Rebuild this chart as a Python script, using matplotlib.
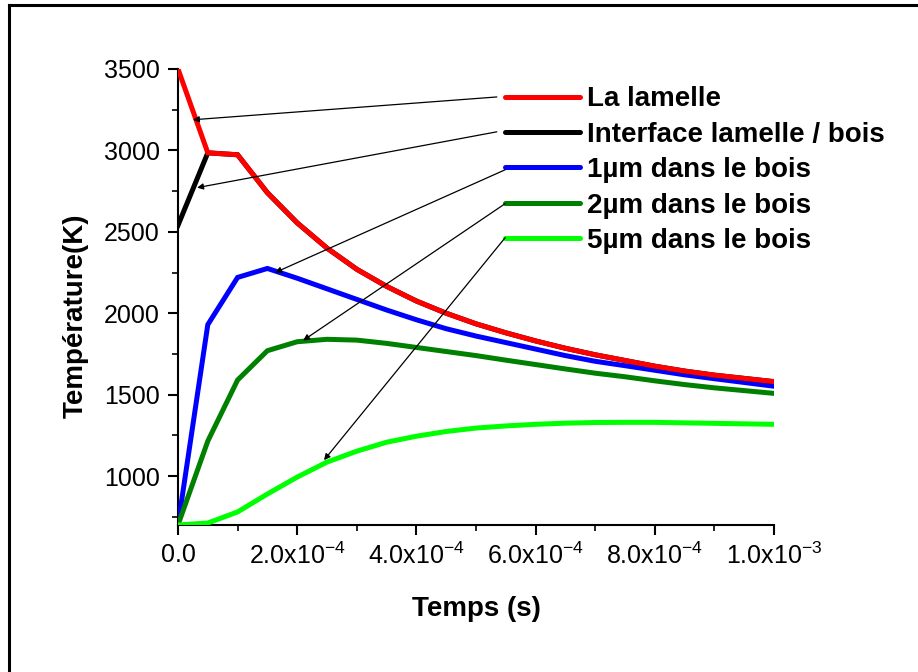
import numpy as np
import matplotlib
matplotlib.use("Agg")
import matplotlib.pyplot as plt
from matplotlib.lines import Line2D
from matplotlib.ticker import MultipleLocator, FixedLocator, FixedFormatter

plt.rcParams['font.family'] = ['Liberation Sans', 'DejaVu Sans']
plt.rcParams['mathtext.default'] = 'regular'

# temps (s), pas de 5e-5
temps = np.arange(21) * 5e-5

lamelle = [3500, 2985, 2973, 2740, 2555, 2400, 2270, 2165, 2075, 2000, 1935,
           1880, 1830, 1785, 1745, 1710, 1675, 1645, 1620, 1600, 1580]
interface = [2540, 2985, 2973, 2740, 2555, 2400, 2270, 2165, 2075, 2000, 1935,
             1880, 1830, 1785, 1745, 1710, 1675, 1645, 1620, 1600, 1580]
bois_1um = [700, 1930, 2220, 2275, 2215, 2150, 2085, 2020, 1960, 1905, 1860,
            1820, 1780, 1740, 1705, 1678, 1650, 1622, 1598, 1575, 1552]
bois_2um = [700, 1215, 1590, 1770, 1825, 1840, 1835, 1815, 1790, 1765, 1740,
            1712, 1685, 1658, 1632, 1610, 1585, 1562, 1542, 1525, 1508]
bois_5um = [700, 712, 780, 890, 994, 1086, 1153, 1208, 1245, 1274, 1295,
            1308, 1318, 1325, 1329, 1330, 1330, 1327, 1324, 1321, 1318]

labels = ['La lamelle', 'Interface lamelle / bois', '1µm dans le bois',
          '2µm dans le bois', '5µm dans le bois']
colors = ['#ff0000', '#000000', '#0000ff', '#008000', '#00ff00']

# flèches : (point visé sur la courbe, départ près de la légende)
arrow_tips = [(2.5e-5, 3188), (3.2e-5, 2771), (1.63e-4, 2250), (2.1e-4, 1833), (2.45e-4, 1098)]
arrow_starts = [(5.35e-4, 3328), (5.35e-4, 3114), (5.49e-4, 2881), (5.49e-4, 2673), (5.49e-4, 2464)]

xticks = [0, 2e-4, 4e-4, 6e-4, 8e-4, 1e-3]
xticklabels = ['0.0', r'2.0x10$^{-4}$', r'4.0x10$^{-4}$', r'6.0x10$^{-4}$',
               r'8.0x10$^{-4}$', r'1.0x10$^{-3}$']

fig = plt.figure(figsize=(9.18, 6.72), dpi=100)
ax = fig.add_axes([0.1939, 0.2188, 0.6492, 0.6786])

series = [lamelle, interface, bois_1um, bois_2um, bois_5um]
zorders = [5, 4, 3, 3, 3]
for vals, c, z in zip(series, colors, zorders):
    ax.plot(temps, vals, color=c, lw=3.6, zorder=z, solid_joinstyle='miter')

for tip, start in zip(arrow_tips, arrow_starts):
    ax.annotate('', xy=tip, xytext=start,
                arrowprops=dict(arrowstyle='-|>', color='black', lw=0.9,
                                mutation_scale=9, shrinkA=0, shrinkB=0),
                annotation_clip=False, zorder=6)

handles = [Line2D([], [], color=c, lw=3.6, solid_capstyle='round') for c in colors]
leg = ax.legend(handles, labels, loc='upper left', bbox_to_anchor=(0.548, 0.962),
                frameon=False, handlelength=2.7, handletextpad=0.25,
                labelspacing=0.34, borderpad=0, borderaxespad=0,
                prop=dict(size=20, weight='bold'))

ax.set_xlim(0, 1e-3)
ax.set_ylim(700, 3500)
ax.xaxis.set_major_locator(FixedLocator(xticks))
ax.xaxis.set_major_formatter(FixedFormatter(xticklabels))
ax.xaxis.set_minor_locator(MultipleLocator(1e-4))
ax.yaxis.set_major_locator(FixedLocator([1000, 1500, 2000, 2500, 3000, 3500]))
ax.yaxis.set_minor_locator(MultipleLocator(250))

ax.spines['top'].set_visible(False)
ax.spines['right'].set_visible(False)
for s in ['left', 'bottom']:
    ax.spines[s].set_linewidth(1.5)
ax.tick_params(which='major', direction='out', length=7, width=1.5, labelsize=18, pad=6)
ax.tick_params(which='minor', direction='out', length=4, width=1.2)

ax.set_xlabel('Temps (s)', fontsize=20, fontweight='bold')
ax.xaxis.set_label_coords(0.5, -0.155)
ax.set_ylabel('Température(K)', fontsize=20, fontweight='bold')
ax.yaxis.set_label_coords(-0.15, 0.458)

# cadre : haut et gauche seulement
fig.add_artist(Line2D([0.0098, 1.0], [0.9926, 0.9926], color='black', lw=2.2,
                      transform=fig.transFigure))
fig.add_artist(Line2D([0.0098, 0.0098], [0.0, 0.9926], color='black', lw=2.2,
                      transform=fig.transFigure))

fig.savefig('out.png', dpi=100, facecolor='white')
